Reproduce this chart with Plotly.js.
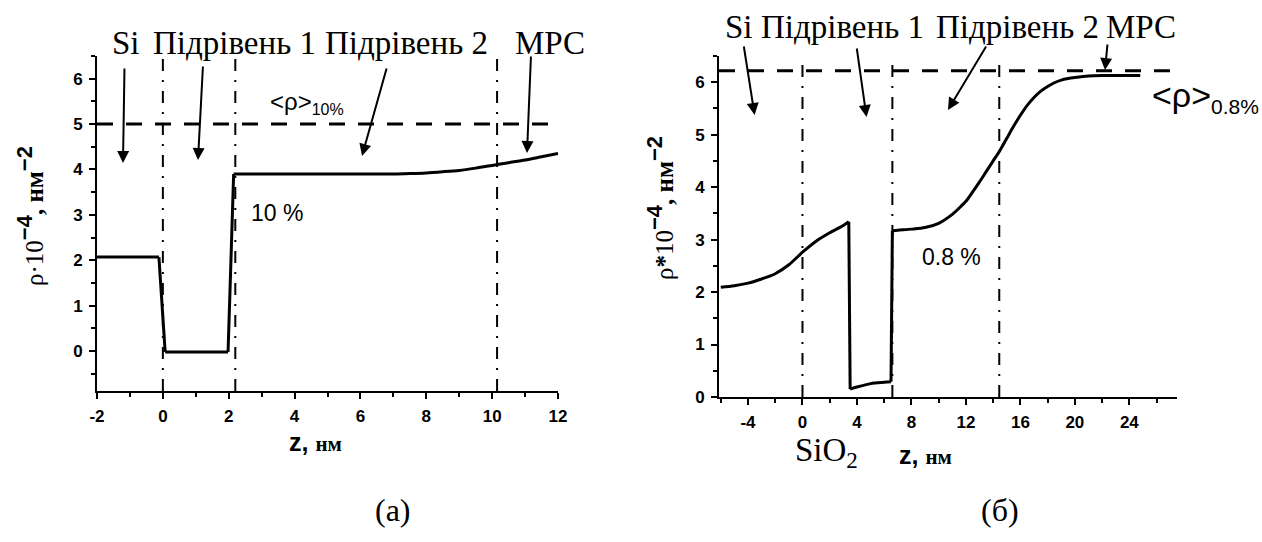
<!DOCTYPE html>
<html><head><meta charset="utf-8">
<script src="https://cdn.plot.ly/plotly-3.0.1.min.js"></script>
<style>html,body{margin:0;padding:0;background:#fff;}#chart{width:1262px;height:542px;}</style>
</head><body><div id="chart"></div>
<script>
// ---- Panel (a): 10 % ----
const zA   = [-2, -0.12, 0.07, 1.98, 2.15, 3, 4, 5, 6, 7, 7.5, 8, 8.5, 9, 9.5, 10, 10.5, 11, 11.5, 12];
const rhoA = [2.07, 2.07, -0.02, -0.02, 3.9, 3.9, 3.9, 3.9, 3.9, 3.9, 3.91, 3.925, 3.95, 3.98, 4.03, 4.09, 4.15, 4.21, 4.28, 4.35];
const meanA = 5.0;
const interfacesA = [0, 2.2, 10.15];
const xTicksA = [-2, 0, 2, 4, 6, 8, 10, 12];
const yTicksA = [0, 1, 2, 3, 4, 5, 6];
// ---- Panel (б): 0.8 % ----
const zB   = [-6, -5, -4, -3, -2, -1, 0, 1, 2, 3, 3.4, 3.5, 4, 5, 6, 6.5, 6.6, 7, 8, 9, 10, 11, 11.5, 12, 12.5, 13, 13.5, 14, 14.5, 15, 15.5, 16, 16.5, 17, 17.5, 18, 18.5, 19, 19.5, 20, 21, 22, 23, 24.8];
const rhoB = [2.09, 2.12, 2.17, 2.25, 2.35, 2.52, 2.76, 2.97, 3.13, 3.27, 3.34, 0.15, 0.19, 0.255, 0.28, 0.29, 3.17, 3.18, 3.2, 3.23, 3.31, 3.48, 3.6, 3.73, 3.91, 4.1, 4.3, 4.5, 4.7, 4.93, 5.16, 5.37, 5.56, 5.71, 5.83, 5.92, 5.99, 6.04, 6.07, 6.09, 6.12, 6.13, 6.13, 6.13];
const meanB = 6.22;
const interfacesB = [0, 6.6, 14.45];
const xTicksB = [-4, 0, 4, 8, 12, 16, 20, 24];
const yTicksB = [0, 1, 2, 3, 4, 5, 6];
// ---- texts ----
const layerLabels = ['Si', 'Підрівень 1', 'Підрівень 2', 'МРС'];
const concLabels = ['10 %', '0.8 %'];
const meanSubs = ['10%', '0.8%'];
const panelLabels = ['(a)', '(б)'];

const W = 1262, H = 542;
const PX = v => v / W, PY = v => 1 - v / H;
const SERIF = 'Liberation Serif, Times New Roman, serif';
const SANS = 'Liberation Sans, Arial, sans-serif';

// split a profile at its abrupt jumps: smooth segments + straight jump connectors
function profileTraces(z, r, xa, ya) {
  const out = [];
  let start = 0;
  const style = {color: '#000', width: 3};
  for (let i = 1; i <= z.length; i++) {
    if (i === z.length || Math.abs(r[i] - r[i - 1]) > 1) {
      out.push({x: z.slice(start, i), y: r.slice(start, i), xaxis: xa, yaxis: ya, mode: 'lines',
        line: Object.assign({shape: 'spline', smoothing: 0.8}, style), hoverinfo: 'skip'});
      if (i < z.length) {
        out.push({x: z.slice(i - 1, i + 1), y: r.slice(i - 1, i + 1), xaxis: xa, yaxis: ya, mode: 'lines',
          line: style, hoverinfo: 'skip'});
      }
      start = i;
    }
  }
  return out;
}
const traces = profileTraces(zA, rhoA, 'x', 'y').concat(profileTraces(zB, rhoB, 'x2', 'y2'));

const shapes = [];
[[meanA, 'x', 'y'], [meanB, 'x2', 'y2']].forEach(([m, xr, yr]) => {
  shapes.push({type: 'line', xref: xr + ' domain', yref: yr, x0: 0, x1: 1, y0: m, y1: m,
    line: {color: '#000', width: 3, dash: '16px,13px'}});
});
[[interfacesA, 'x', 'y'], [interfacesB, 'x2', 'y2']].forEach(([arr, xr, yr]) => {
  arr.forEach(v => shapes.push({type: 'line', xref: xr, yref: yr + ' domain', x0: v, x1: v, y0: 0, y1: 1,
    line: {color: '#000', width: 2, dash: '12px,9px,2px,9px'}}));
});

const ann = [];
function txt(px, py, text, size, family, xanchor, extra) {
  ann.push(Object.assign({x: PX(px), y: PY(py), xref: 'paper', yref: 'paper', text: text, showarrow: false,
    xanchor: xanchor || 'center', yanchor: 'middle', font: {family: family, size: size, color: '#000'}}, extra || {}));
}
function arrow(hx, hy, tx, ty) {
  ann.push({x: PX(hx), y: PY(hy), xref: 'paper', yref: 'paper', ax: tx - hx, ay: ty - hy,
    axref: 'pixel', ayref: 'pixel', text: '', showarrow: true, arrowhead: 2, arrowsize: 1.2,
    arrowwidth: 2, arrowcolor: '#000'});
}
// layer labels, panel (a)
[110, 151, 323, 513].forEach((x, i) => txt(x, 43, layerLabels[i], 33, SERIF, 'left'));
// layer labels, panel (б)
[723, 759, 934, 1104].forEach((x, i) => txt(x, 27, layerLabels[i], 33, SERIF, 'left'));
// arrows (a)
arrow(123, 163, 124.5, 67); arrow(198, 160, 203, 65); arrow(362, 156, 387, 67); arrow(527, 153, 531, 55);
// arrows (б)
arrow(754.6, 115, 743.6, 45); arrow(866.5, 117, 856.6, 47); arrow(948, 110, 987, 45); arrow(1105, 70, 1107.6, 43);
// mean density labels
const subSpan = (s, sz) => '<sub><span style="font-size:' + sz + 'px">' + s + '</span></sub>';
txt(268, 103, '&lt;ρ&gt;' + subSpan(meanSubs[0], 16), 24, SANS, 'left');
txt(1150, 97, '&lt;ρ&gt;' + subSpan(meanSubs[1], 21), 34, SANS, 'left');
// concentration labels
txt(277, 213, concLabels[0], 23, SANS);
txt(951, 257, concLabels[1], 23, SANS);
// axis titles
const ztitle = '<b>z, </b><span style="font-family:Liberation Serif;font-size:21px"><b>нм</b></span>';
txt(315, 442, ztitle, 25, SANS);
txt(925, 455, ztitle, 25, SANS);
txt(826, 452, 'SiO<sub>2</sub>', 33, SERIF);
const sup = s => '<sup><span style="font-family:Liberation Sans;font-weight:bold;font-size:22px">' + s + '</span></sup>';
txt(30, 216, 'ρ·10' + sup('−4') + '<b>, нм</b>' + sup('−2'), 25, SERIF, 'center', {textangle: -90});
txt(660, 208, 'ρ<b>*</b>10' + sup('−4') + '<b>, нм</b>' + sup('−2'), 25, SERIF, 'center', {textangle: -90});
// panel labels
txt(393, 510, panelLabels[0], 32, SERIF);
txt(1000, 510, panelLabels[1], 32, SERIF);

const bold = v => '<b>' + String(v) + '</b>';
const tickfont = {family: 'Liberation Sans', size: 17, color: '#000', weight: 'bold'};
const minorX = d => ({dtick: d, ticks: 'outside', ticklen: 4, tickwidth: 2, tickcolor: '#000'});
const axBase = {showline: true, linewidth: 2, linecolor: '#000', ticks: 'outside', ticklen: 6, tickwidth: 2,
  tickcolor: '#000', showgrid: false, zeroline: false, tickfont: tickfont, fixedrange: true, tickmode: 'array',
  ticklabelstandoff: 3};

const layout = {
  width: W, height: H, margin: {l: 0, r: 0, t: 0, b: 0}, paper_bgcolor: '#fff', plot_bgcolor: 'rgba(0,0,0,0)',
  showlegend: false, font: {family: SANS, color: '#000'},
  xaxis: Object.assign({}, axBase, {domain: [PX(97), PX(558)], anchor: 'y', range: [-2, 12],
    tickvals: xTicksA, ticktext: xTicksA.map(bold), minor: Object.assign(minorX(1), {tick0: 0})}),
  yaxis: Object.assign({}, axBase, {domain: [PY(391), PY(56)], anchor: 'x', range: [-0.88, 6.5],
    tickvals: yTicksA, ticktext: yTicksA.map(bold), minor: Object.assign(minorX(0.5), {tick0: 0})}),
  xaxis2: Object.assign({}, axBase, {domain: [PX(719), PX(1177)], anchor: 'y2', range: [-6.13, 27.5],
    tickvals: xTicksB, ticktext: xTicksB.map(bold), minor: Object.assign(minorX(2), {tick0: 0})}),
  yaxis2: Object.assign({}, axBase, {domain: [PY(397), PY(56)], anchor: 'x2', range: [0, 6.5],
    tickvals: yTicksB, ticktext: yTicksB.map(bold), minor: Object.assign(minorX(0.5), {tick0: 0})}),
  shapes: shapes, annotations: ann
};
Plotly.newPlot('chart', traces, layout, {displayModeBar: false, staticPlot: true});
</script></body></html>
